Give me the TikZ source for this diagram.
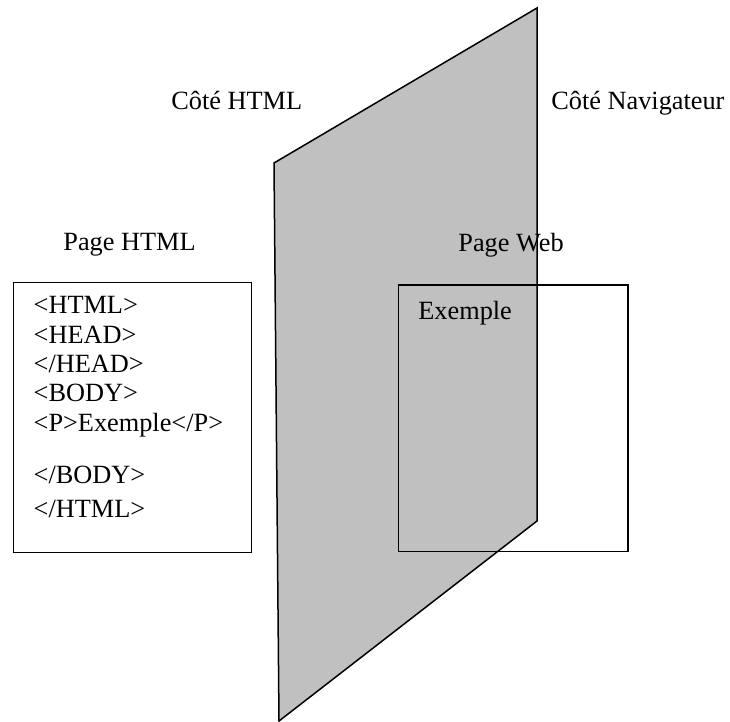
\documentclass[tikz,border=0pt]{standalone}
\usepackage{fontspec}
\setmainfont{Liberation Serif}
\usepackage{xcolor}
\usetikzlibrary{positioning}
\definecolor{panelgrey}{HTML}{C0C0C0}

\begin{document}
\begin{tikzpicture}[
  x=0.5pt,y=-0.5pt,
  lbl/.style={anchor=base west,inner sep=0pt,font=\fontsize{13.15}{15}\selectfont},
  pagebox/.style={draw,thick,line width=0.7pt,anchor=north west,inner sep=0pt},
  panel/.style={fill=panelgrey,draw,line width=0.75pt,line join=miter}
]
\useasboundingbox (0,0) rectangle (730,722);
% separating plane
\draw[panel] (274,163) -- (537,8) -- (537,521) -- (279,721) -- cycle;
% side titles
\node[lbl] (cotehtml) at (171,110) {Côté HTML};
\node[lbl] (cotenav) at (551,110) {Côté Navigateur};
\node[lbl] (titlehtml) at (63,251) {Page HTML};
\node[lbl] (titleweb) at (458,251.5) {Page Web};
% source page
\node[pagebox,minimum width=118.85pt,minimum height=134.85pt] (htmlbox) at (13,282) {};
\foreach \name/\y/\txt in {l1/314/{<HTML>},l2/343.5/{<HEAD>},l3/373/{</HEAD>},
    l4/402/{<BODY>},l5/432/{<P>Exemple</P>},l6/484/{</BODY>},l7/517/{</HTML>}}
  \node[lbl] (\name) at (33.3,\y) {\txt};
% rendered page
\node[pagebox,minimum width=114.8pt,minimum height=133.35pt] (webbox) at (397.7,284.3) {};
\node[lbl] (exemple) at (418,319.5) {Exemple};
\end{tikzpicture}
\end{document}
